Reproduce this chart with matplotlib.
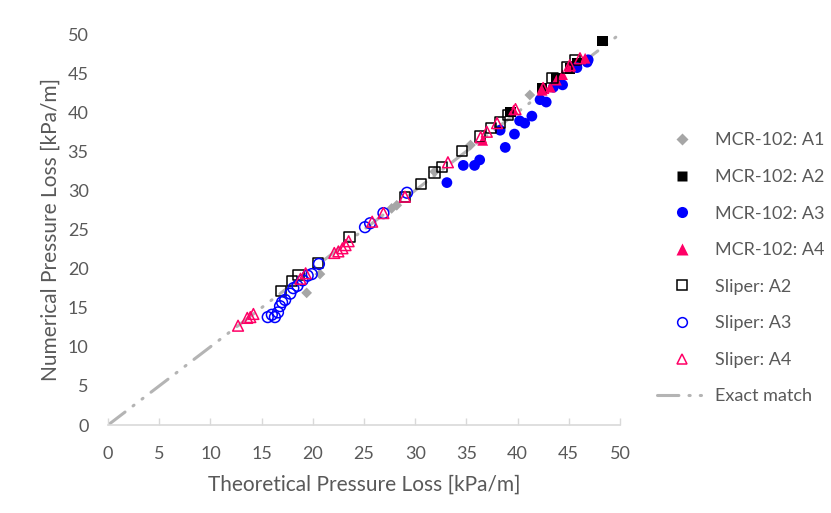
import matplotlib
matplotlib.use('Agg')
import matplotlib.pyplot as plt
from matplotlib.lines import Line2D

plt.rcParams['font.family'] = ['Lato', 'DejaVu Sans']

# MCR-102 series
a1_x = [19.4, 20.7, 27.7, 28.2, 31.9, 35.4, 41.2]
a1_y = [16.9, 19.3, 27.7, 28.1, 32.4, 35.8, 42.2]

a2_x = [39.3, 42.4, 43.8, 45.1, 45.8, 48.3]
a2_y = [40.0, 43.1, 44.4, 45.6, 46.3, 49.1]

a3_x = [33.1, 34.7, 35.8, 36.3, 38.8, 39.7, 38.3, 40.2, 40.7, 41.4, 42.2, 42.8,
        43.5, 44.4, 45.8, 46.8, 46.9]
a3_y = [31.0, 33.2, 33.2, 33.9, 35.5, 37.2, 37.7, 38.9, 38.6, 39.5, 41.6, 41.3,
        43.2, 43.5, 45.7, 46.4, 46.7]

a4_x = [36.6, 39.6, 42.4, 43.2, 43.8, 44.4, 45.1, 46.6]
a4_y = [36.4, 40.3, 42.8, 43.2, 44.1, 44.8, 45.8, 46.9]

# Sliper series
s2_x = [16.9, 18.0, 18.6, 20.5, 23.6, 29.0, 30.6, 31.9, 32.6, 34.6, 36.3, 37.4,
        38.3, 39.1, 43.4, 44.8, 45.6]
s2_y = [17.1, 18.4, 19.2, 20.7, 24.0, 29.2, 30.8, 32.3, 33.0, 35.0, 36.9, 38.0,
        38.7, 39.6, 44.4, 45.7, 46.7]

s3_x = [15.6, 16.0, 16.3, 16.6, 16.8, 17.0, 17.3, 17.8, 18.1, 18.5, 19.0, 19.5,
        19.9, 20.6, 25.1, 25.6, 26.9, 29.2]
s3_y = [13.8, 14.1, 13.8, 14.4, 15.2, 15.7, 16.0, 16.8, 17.5, 17.8, 18.5, 19.1,
        19.3, 20.6, 25.3, 25.8, 27.1, 29.7]

s4_x = [12.7, 13.6, 13.9, 14.2, 18.8, 19.3, 22.1, 22.5, 22.9, 23.2, 23.5, 25.8,
        26.9, 29.0, 33.2, 36.4, 37.0, 38.0, 39.8, 42.5, 45.1, 46.1]
s4_y = [12.7, 13.7, 13.8, 14.2, 18.7, 19.4, 22.0, 22.2, 22.6, 23.0, 23.5, 26.0,
        27.1, 29.2, 33.6, 36.8, 37.5, 38.6, 40.4, 43.1, 46.0, 46.9]

line_x = [0, 50]
line_y = [0, 50]

ticks = [0, 5, 10, 15, 20, 25, 30, 35, 40, 45, 50]

gray = '#A6A6A6'
pink = '#FF0066'
blue = '#0000FF'
txt = '#595959'

fig = plt.figure(figsize=(8.31, 5.13), dpi=100)
ax = fig.add_axes([0.130, 0.1715, 0.616, 0.7622])

ax.plot(line_x, line_y, color='#B4B4B4', lw=2.2, dashes=(7, 3.3, 0.4, 3.3, 0.4, 3.3),
        dash_capstyle='round', zorder=1, label='Exact match')

ax.scatter(a1_x, a1_y, marker='D', s=30, color=gray, edgecolors='none', zorder=2)
ax.scatter(a2_x, a2_y, marker='s', s=55, color='black', edgecolors='none', zorder=3)
ax.scatter(a3_x, a3_y, marker='o', s=60, color=blue, edgecolors='none', zorder=4)
ax.scatter(a4_x, a4_y, marker='^', s=60, color=pink, edgecolors='none', zorder=5)
ax.scatter(s2_x, s2_y, marker='s', s=55, facecolors='none', edgecolors='black',
           linewidths=1.1, zorder=6)
ax.scatter(s3_x, s3_y, marker='o', s=60, facecolors='none', edgecolors=blue,
           linewidths=1.1, zorder=7)
ax.scatter(s4_x, s4_y, marker='^', s=60, facecolors='none', edgecolors=pink,
           linewidths=1.1, zorder=8)

ax.set_xlim(0, 50)
ax.set_ylim(0, 50)
ax.set_xticks(ticks)
ax.set_yticks(ticks)
for s in ['top', 'right', 'left']:
    ax.spines[s].set_visible(False)
ax.spines['bottom'].set_color('#D9D9D9')
ax.spines['bottom'].set_linewidth(1.2)
ax.tick_params(axis='x', direction='in', length=5, width=1, color='#D9D9D9',
               labelsize=13, labelcolor=txt, pad=15)
ax.tick_params(axis='y', length=0, labelsize=13, labelcolor=txt, pad=14)

ax.set_xlabel('Theoretical Pressure Loss [kPa/m]', fontsize=15, color=txt, labelpad=9)
ax.set_ylabel('Numerical Pressure Loss [kPa/m]', fontsize=15, color=txt, labelpad=5)

handles = [
    Line2D([], [], ls='none', marker='D', ms=6, color=gray, mec='none'),
    Line2D([], [], ls='none', marker='s', ms=7, color='black', mec='none'),
    Line2D([], [], ls='none', marker='o', ms=8, color=blue, mec='none'),
    Line2D([], [], ls='none', marker='^', ms=8, color=pink, mec='none'),
    Line2D([], [], ls='none', marker='s', ms=7, mfc='none', mec='black', mew=1.1),
    Line2D([], [], ls='none', marker='o', ms=7, mfc='none', mec=blue, mew=1.1),
    Line2D([], [], ls='none', marker='^', ms=7, mfc='none', mec=pink, mew=1.1),
    Line2D([], [], color='#B4B4B4', lw=2.2, dashes=(7, 3.3, 0.4, 3.3, 0.4, 3.3),
           dash_capstyle='round'),
]
labels = ['MCR-102: A1', 'MCR-102: A2', 'MCR-102: A3', 'MCR-102: A4',
          'Sliper: A2', 'Sliper: A3', 'Sliper: A4', 'Exact match']
leg = fig.legend(handles, labels, loc='upper left', bbox_to_anchor=(0.791, 0.742),
                 frameon=False, fontsize=13, handlelength=2.7, handletextpad=0.5,
                 labelspacing=1.14, borderpad=0, borderaxespad=0)
for t in leg.get_texts():
    t.set_color(txt)

fig.savefig('out.png', dpi=100)
